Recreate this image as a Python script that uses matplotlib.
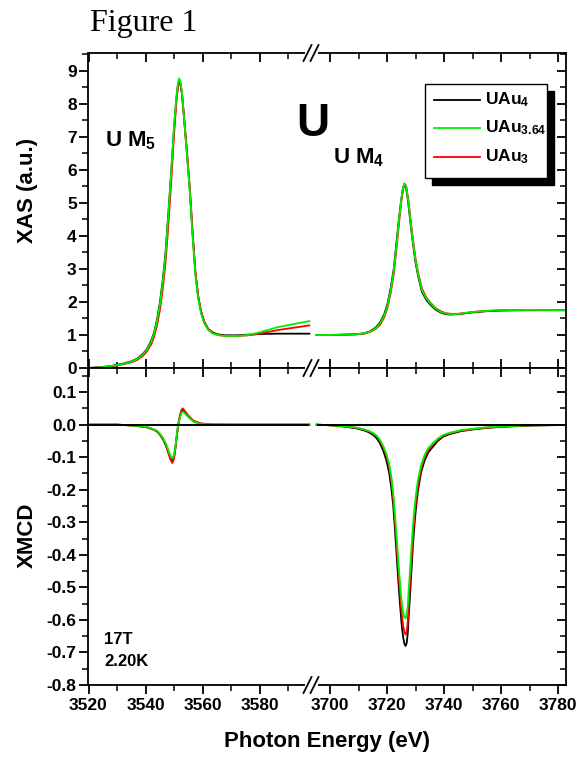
import matplotlib
matplotlib.use("Agg")
import matplotlib.pyplot as plt
from matplotlib.lines import Line2D
from matplotlib.patches import Rectangle, Polygon
from matplotlib.ticker import MultipleLocator, FormatStrFormatter

plt.rcParams['font.family'] = ['Liberation Sans', 'DejaVu Sans']
plt.rcParams['font.weight'] = 'bold'
plt.rcParams['mathtext.fontset'] = 'custom'
plt.rcParams['mathtext.rm'] = 'Liberation Sans:bold'
plt.rcParams['mathtext.it'] = 'Liberation Sans:bold'
plt.rcParams['mathtext.bf'] = 'Liberation Sans:bold'

# ---------------- data ----------------
series_names = ['UAu$_4$', 'UAu$_{3.64}$', 'UAu$_3$']
series_colors = ['black', '#00ee00', 'red']

# XAS, U M5 edge
E_xas_m5 = [3520, 3524, 3528, 3532, 3535, 3537, 3539, 3540.5, 3542, 3543, 3544, 3545, 3546,
            3547, 3548, 3549, 3550, 3550.8, 3551.4, 3551.8, 3552.2, 3552.8, 3553.5, 3554.5,
            3555.5, 3556.5, 3557.5, 3558.5, 3559.5, 3560.6, 3562, 3563.5, 3565.3, 3568,
            3572, 3576, 3580, 3586.5, 3592, 3597.5]
xas_m5_uau4 = [0.0, 0.02, 0.06, 0.13, 0.2, 0.28, 0.42, 0.57, 0.83, 1.07, 1.44, 1.95, 2.62,
               3.45, 4.65, 5.9, 7.25, 8.12, 8.57, 8.7, 8.63, 8.3, 7.6, 6.55,
               5.45, 4.1, 2.9, 2.15, 1.7, 1.4, 1.18, 1.08, 1.02, 0.99,
               0.99, 1.01, 1.03, 1.04, 1.04, 1.04]
xas_m5_uau364 = [0.0, 0.02, 0.06, 0.12, 0.19, 0.27, 0.4, 0.55, 0.8, 1.04, 1.4, 1.9, 2.56,
                 3.4, 4.6, 5.9, 7.3, 8.2, 8.65, 8.77, 8.7, 8.35, 7.6, 6.5,
                 5.4, 4.0, 2.8, 2.1, 1.65, 1.35, 1.15, 1.05, 1.0, 0.97,
                 0.97, 1.0, 1.08, 1.24, 1.33, 1.42]
xas_m5_uau3 = [0.0, 0.02, 0.05, 0.11, 0.17, 0.24, 0.36, 0.5, 0.72, 0.94, 1.27, 1.73, 2.35,
               3.15, 4.3, 5.6, 7.05, 8.02, 8.52, 8.66, 8.62, 8.32, 7.62, 6.6,
               5.5, 4.15, 2.92, 2.18, 1.72, 1.4, 1.17, 1.06, 1.0, 0.97,
               0.97, 0.99, 1.04, 1.15, 1.22, 1.29]

# XAS, U M4 edge
E_xas_m4 = [3695.3, 3700, 3705, 3709, 3712, 3714, 3716, 3717.6, 3719, 3720.2, 3721.3, 3722.4,
            3723.3, 3724.2, 3725, 3725.6, 3726.1, 3726.7, 3727.4, 3728.2, 3729, 3730, 3731,
            3732.3, 3733.8, 3735.3, 3737, 3738.8, 3740.5, 3742.4, 3745, 3750.6, 3755, 3760,
            3770, 3782.6]
xas_m4_uau4 = [1.0, 1.0, 1.01, 1.02, 1.05, 1.11, 1.22, 1.38, 1.62, 1.95, 2.42, 3.02,
               3.78, 4.52, 5.1, 5.43, 5.56, 5.45, 5.05, 4.42, 3.84, 3.2, 2.75,
               2.3, 2.06, 1.91, 1.77, 1.68, 1.63, 1.62, 1.63, 1.69, 1.72, 1.74,
               1.75, 1.75]
xas_m4_uau364 = [1.0, 1.0, 1.01, 1.02, 1.05, 1.1, 1.2, 1.35, 1.58, 1.9, 2.35, 2.96,
                 3.7, 4.48, 5.1, 5.45, 5.59, 5.5, 5.1, 4.48, 3.9, 3.26, 2.8,
                 2.35, 2.1, 1.95, 1.8, 1.70, 1.65, 1.63, 1.64, 1.70, 1.73, 1.75,
                 1.76, 1.75]
xas_m4_uau3 = [1.0, 1.0, 1.01, 1.02, 1.04, 1.09, 1.18, 1.31, 1.53, 1.83, 2.27, 2.86,
               3.6, 4.38, 5.03, 5.42, 5.58, 5.52, 5.15, 4.55, 3.96, 3.32, 2.85,
               2.4, 2.13, 1.97, 1.82, 1.72, 1.66, 1.64, 1.64, 1.70, 1.73, 1.75,
               1.76, 1.75]

# XMCD, U M5 edge
E_xmcd_m5 = [3520, 3530, 3536, 3540.4, 3542.2, 3543.9, 3545, 3546.2, 3547.2, 3548, 3548.8,
             3549.4, 3550, 3550.5, 3551, 3551.5, 3552.1, 3552.6, 3553.1, 3553.8, 3555,
             3556.8, 3559.2, 3563, 3570, 3580, 3597.5]
xmcd_m5_uau4 = [0, 0, -0.003, -0.008, -0.013, -0.02, -0.03, -0.046, -0.065, -0.085, -0.105,
                -0.112, -0.1, -0.07, -0.035, 0.0, 0.025, 0.04, 0.045, 0.038, 0.026,
                0.011, 0.003, 0.0, 0, 0, 0]
xmcd_m5_uau364 = [0, 0, -0.003, -0.007, -0.012, -0.018, -0.027, -0.042, -0.059, -0.078, -0.097,
                  -0.104, -0.094, -0.066, -0.03, 0.0, 0.022, 0.035, 0.04, 0.034, 0.023,
                  0.009, 0.002, 0.0, 0, 0, 0]
xmcd_m5_uau3 = [0, 0, -0.003, -0.008, -0.013, -0.019, -0.029, -0.044, -0.063, -0.085, -0.108,
                -0.118, -0.105, -0.073, -0.033, 0.003, 0.03, 0.045, 0.05, 0.042, 0.028,
                0.012, 0.004, 0.001, 0, 0, 0]

# XMCD, U M4 edge
E_xmcd_m4 = [3695.3, 3700, 3705, 3709, 3711.7, 3713.5, 3715.2, 3716.5, 3717.5, 3718.7,
             3719.8, 3720.8, 3721.6, 3722.2, 3722.7, 3723.3, 3723.9, 3724.5, 3725.1, 3725.6,
             3726.1, 3726.5, 3726.9, 3727.3, 3727.6, 3728.1, 3728.6, 3729.1, 3729.7, 3730.3,
             3730.9, 3732, 3733.2, 3734.5, 3736.1, 3737.8, 3739.7, 3742, 3746, 3750,
             3755, 3760, 3765, 3770, 3782.6]
xmcd_m4_uau4 = [0, -0.002, -0.006, -0.011, -0.017, -0.023, -0.032, -0.043, -0.057, -0.08,
                -0.11, -0.15, -0.20, -0.25, -0.31, -0.39, -0.47, -0.545, -0.61, -0.65,
                -0.673, -0.68, -0.672, -0.64, -0.59, -0.52, -0.446, -0.37, -0.30, -0.245,
                -0.20, -0.145, -0.11, -0.085, -0.068, -0.05, -0.037, -0.029, -0.02, -0.015,
                -0.01, -0.007, -0.005, -0.003, -0.001]
xmcd_m4_uau364 = [0, -0.002, -0.005, -0.009, -0.014, -0.019, -0.026, -0.035, -0.046, -0.066,
                  -0.09, -0.123, -0.165, -0.212, -0.265, -0.335, -0.41, -0.48, -0.54, -0.575,
                  -0.592, -0.595, -0.585, -0.555, -0.51, -0.445, -0.375, -0.31, -0.25, -0.205,
                  -0.168, -0.124, -0.093, -0.072, -0.057, -0.043, -0.032, -0.025, -0.017, -0.013,
                  -0.008, -0.006, -0.004, -0.002, -0.001]
xmcd_m4_uau3 = [0, -0.002, -0.005, -0.009, -0.015, -0.02, -0.028, -0.037, -0.049, -0.07,
                -0.095, -0.13, -0.175, -0.225, -0.28, -0.355, -0.435, -0.51, -0.575, -0.615,
                -0.638, -0.645, -0.637, -0.605, -0.555, -0.485, -0.41, -0.34, -0.275, -0.225,
                -0.185, -0.135, -0.1, -0.078, -0.062, -0.046, -0.034, -0.027, -0.018, -0.014,
                -0.009, -0.006, -0.004, -0.002, -0.001]

xticks_left = [3520, 3540, 3560, 3580]
xticks_right = [3700, 3720, 3740, 3760, 3780]

# ---------------- figure ----------------
W, H = 581, 758
fig = plt.figure(figsize=(W / 100, H / 100), dpi=100)

def fx(px):
    return px / W

def fy(py):
    return 1 - py / H

xL, xB, xR = 88.5, 311, 566
yT, yM, yBot = 53, 368, 685

axTL = fig.add_axes([fx(xL), fy(yM), fx(xB - xL), fy(yT) - fy(yM)])
axTR = fig.add_axes([fx(xB), fy(yM), fx(xR - xB), fy(yT) - fy(yM)])
axBL = fig.add_axes([fx(xL), fy(yBot), fx(xB - xL), fy(yM) - fy(yBot)])
axBR = fig.add_axes([fx(xB), fy(yBot), fx(xR - xB), fy(yM) - fy(yBot)])

lw = 1.3
xas_m5 = [xas_m5_uau4, xas_m5_uau3, xas_m5_uau364]
xas_m4 = [xas_m4_uau4, xas_m4_uau3, xas_m4_uau364]
xm_m5 = [xmcd_m5_uau4, xmcd_m5_uau3, xmcd_m5_uau364]
xm_m4 = [xmcd_m4_uau4, xmcd_m4_uau3, xmcd_m4_uau364]
cols = ['black', 'red', '#00ee00']
for v5, v4, c in zip(xas_m5, xas_m4, cols):
    axTL.plot(E_xas_m5, v5, color=c, lw=lw, solid_joinstyle='round')
    axTR.plot(E_xas_m4, v4, color=c, lw=lw, solid_joinstyle='round')
for v5, v4, c in zip(xm_m5, xm_m4, cols):
    axBL.plot(E_xmcd_m5, v5, color=c, lw=lw, solid_joinstyle='round')
    axBR.plot(E_xmcd_m4, v4, color=c, lw=lw, solid_joinstyle='round')

axBL.hlines(0, E_xmcd_m5[0], E_xmcd_m5[-1], color='black', lw=1.4, zorder=5)
axBR.hlines(0, E_xmcd_m4[0], E_xmcd_m4[-1], color='black', lw=1.4, zorder=5)

# scales
left_lim = (3520, 3520 + (xB - xL) / 2.85)
right_lim = (3700 - (330 - xB) / 2.85, 3700 + (xR - 330) / 2.85)
for ax in (axTL, axBL):
    ax.set_xlim(*left_lim)
    ax.set_xticks(xticks_left)
for ax in (axTR, axBR):
    ax.set_xlim(*right_lim)
    ax.set_xticks(xticks_right)
for ax in (axTL, axTR):
    ax.set_ylim(0, 9.54)
    ax.yaxis.set_major_locator(MultipleLocator(1))
    ax.yaxis.set_minor_locator(MultipleLocator(0.5))
for ax in (axBL, axBR):
    ax.set_ylim(-0.8, 0.174)
    ax.yaxis.set_major_locator(MultipleLocator(0.1))
    ax.yaxis.set_minor_locator(MultipleLocator(0.05))
for ax in (axTL, axTR, axBL, axBR):
    ax.xaxis.set_minor_locator(MultipleLocator(10))
    for s in ax.spines.values():
        s.set_linewidth(1.3)

axBL.yaxis.set_major_formatter(FormatStrFormatter('%.1f'))
axTL.yaxis.set_major_formatter(FormatStrFormatter('%d'))

tkw_major = dict(length=6.5, width=1.3)
tkw_minor = dict(length=4, width=1.1)
TFS = 12.5

axTL.spines['right'].set_visible(False)
axTR.spines['left'].set_visible(False)
axBL.spines['right'].set_visible(False)
axBR.spines['left'].set_visible(False)

for ax in (axTL, axTR):
    ax.tick_params(axis='x', which='major', direction='in', top=True, bottom=True,
                   labelbottom=False, **tkw_major)
    ax.tick_params(axis='x', which='minor', direction='in', top=True, bottom=True, **tkw_minor)
for ax in (axBL, axBR):
    ax.tick_params(axis='x', which='major', direction='out', top=False, bottom=True,
                   labelsize=TFS, pad=3, **tkw_major)
    ax.tick_params(axis='x', which='minor', direction='out', top=False, bottom=True, **tkw_minor)
    sec = ax.secondary_xaxis('top')
    sec.set_xticks(ax.get_xticks())
    sec.xaxis.set_minor_locator(MultipleLocator(10))
    sec.tick_params(axis='x', which='major', direction='in', labeltop=False, **tkw_major)
    sec.tick_params(axis='x', which='minor', direction='in', **tkw_minor)
    sec.spines['top'].set_visible(False)

for ax in (axTL, axBL):
    ax.tick_params(axis='y', which='major', direction='out', left=True, right=False,
                   labelsize=TFS, pad=2, **tkw_major)
    ax.tick_params(axis='y', which='minor', direction='out', left=True, right=False, **tkw_minor)
for ax in (axTR, axBR):
    ax.tick_params(axis='y', which='major', direction='in', left=False, right=True,
                   labelleft=False, **tkw_major)
    ax.tick_params(axis='y', which='minor', direction='in', left=False, right=True, **tkw_minor)

# break marks
def brk(py):
    x0 = xB
    gap = 5
    mask = Polygon([(fx(x0 - gap / 2 - 4), fy(py - 1.5)), (fx(x0 + gap / 2 + 4), fy(py - 1.5)),
                    (fx(x0 + gap / 2 + 4), fy(py + 1.5)), (fx(x0 - gap / 2 - 4), fy(py + 1.5))],
                   closed=True, transform=fig.transFigure, facecolor='white',
                   edgecolor='none', zorder=20)
    fig.add_artist(mask)
    for dx in (-gap / 2 - 1, gap / 2 + 1):
        fig.add_artist(Line2D([fx(x0 + dx - 4), fx(x0 + dx + 4)], [fy(py + 8), fy(py - 8)],
                              transform=fig.transFigure, color='black', lw=1.3, zorder=21))

for py in (yT, yM, yBot):
    brk(py)

# legend with shadow
fig.add_artist(Rectangle((fx(432), fy(185)), fx(122), fy(91) - fy(185),
                         transform=fig.transFigure, facecolor='black', edgecolor='black', zorder=8))
fig.add_artist(Rectangle((fx(425), fy(178)), fx(122), fy(84) - fy(178),
                         transform=fig.transFigure, facecolor='white', edgecolor='black',
                         lw=1.0, zorder=9))
leg_rows = [100, 128, 157]
for name, c, ry in zip(series_names, series_colors, leg_rows):
    fig.add_artist(Line2D([fx(434), fx(480)], [fy(ry), fy(ry)], transform=fig.transFigure,
                          color=c, lw=1.3, zorder=10))
    fig.text(fx(485), fy(ry), name, fontsize=12.5, fontweight='bold', va='center',
             ha='left', zorder=11)

# texts
fig.text(fx(90), fy(23), 'Figure 1', family='Liberation Serif', fontweight='normal',
         fontsize=23, va='center', ha='left')
fig.text(fx(313), fy(124), 'U', fontsize=33, fontweight='bold', ha='center', va='center')
fig.text(fx(105), fy(141), 'U M$_5$', fontsize=16, fontweight='bold', ha='left', va='center')
fig.text(fx(333), fy(158), 'U M$_4$', fontsize=16, fontweight='bold', ha='left', va='center')
fig.text(fx(104), fy(639), '17T', fontsize=12, fontweight='bold', ha='left', va='center')
fig.text(fx(104), fy(662), '2.20K', fontsize=12, fontweight='bold', ha='left', va='center')
fig.text(fx(27), fy(190), 'XAS (a.u.)', fontsize=16, fontweight='bold', rotation=90,
         ha='center', va='center')
fig.text(fx(27), fy(535), 'XMCD', fontsize=16, fontweight='bold', rotation=90,
         ha='center', va='center')
fig.text(fx(327), fy(741), 'Photon Energy (eV)', fontsize=16, fontweight='bold',
         ha='center', va='center')

fig.savefig('out.png', dpi=100)
